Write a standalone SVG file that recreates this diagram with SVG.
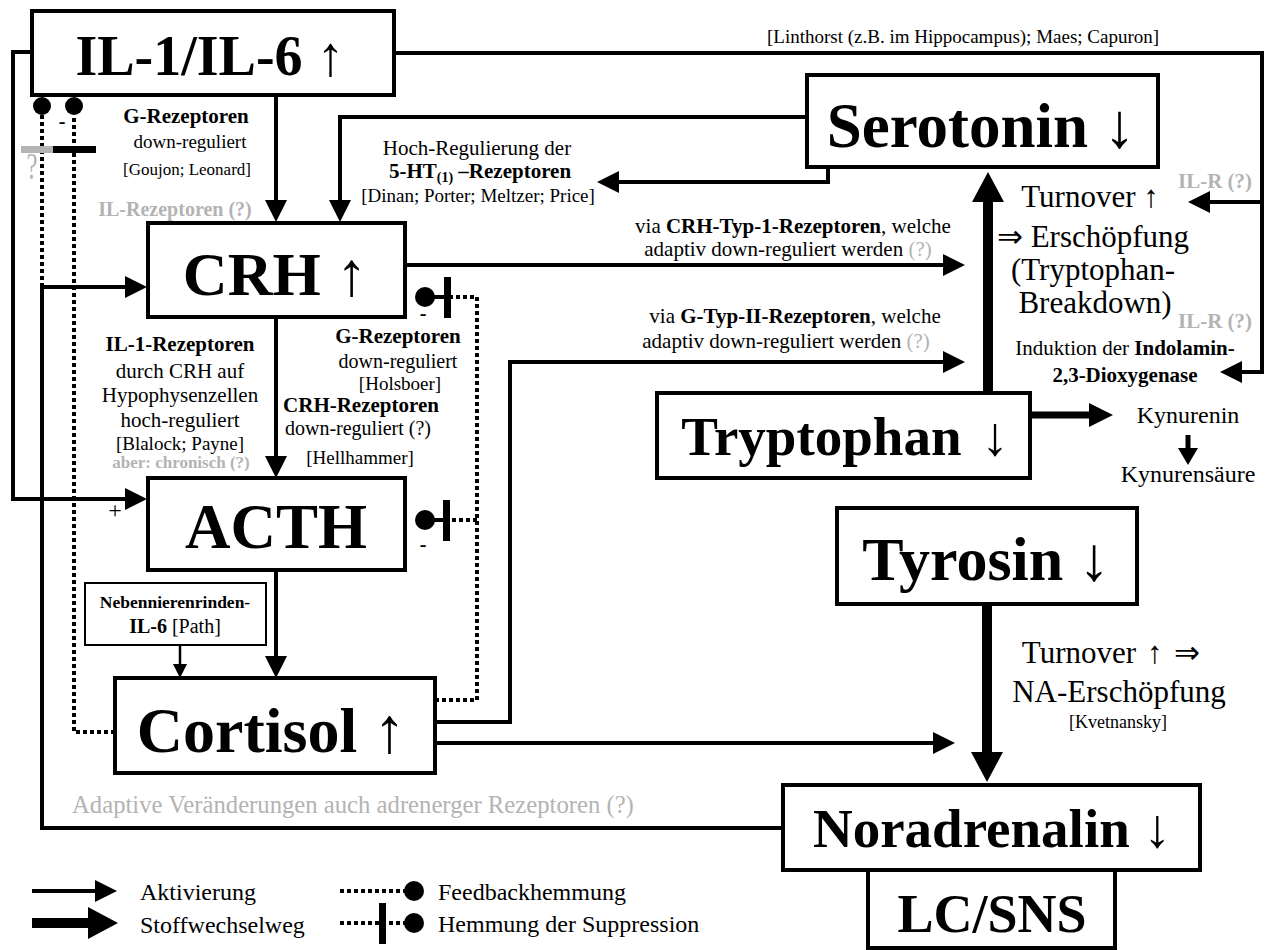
<svg xmlns="http://www.w3.org/2000/svg" width="1265" height="950" viewBox="0 0 1265 950">
<style>
text{font-family:"Liberation Serif","Times New Roman",serif;fill:#000}
.big{font-weight:bold;text-anchor:middle}
.ar{font-weight:normal}
.m{text-anchor:middle}
.b{font-weight:bold}
.g{fill:#b3b3b3}
.f21{font-size:21px}
.f20{font-size:20px}
.f19{font-size:19px}
.f24{font-size:24px}
.f31{font-size:31px}
.box{fill:#fff;stroke:#000;stroke-width:4}
.ln{fill:none;stroke:#000;stroke-width:4}
.dot{fill:none;stroke:#000;stroke-width:4;stroke-dasharray:4 3}
</style>
<defs>
<marker id="arr" markerUnits="userSpaceOnUse" viewBox="0 0 22 22" markerWidth="22" markerHeight="22" refX="1" refY="11" orient="auto"><path d="M0,0 L22,11 L0,22 z"/></marker>
<marker id="arrT" markerUnits="userSpaceOnUse" viewBox="0 0 30 32" markerWidth="30" markerHeight="32" refX="1" refY="16" orient="auto"><path d="M0,0 L30,16 L0,32 z"/></marker>
<marker id="arrM" markerUnits="userSpaceOnUse" viewBox="0 0 24 24" markerWidth="24" markerHeight="24" refX="1" refY="12" orient="auto"><path d="M0,0 L24,12 L0,24 z"/></marker>
<marker id="arrS" markerUnits="userSpaceOnUse" viewBox="0 0 17 20" markerWidth="17" markerHeight="20" refX="1" refY="10" orient="auto"><path d="M0,0 L17,10 L0,20 z"/></marker>
<marker id="arrXS" markerUnits="userSpaceOnUse" viewBox="0 0 14 14" markerWidth="14" markerHeight="14" refX="1" refY="7" orient="auto"><path d="M0,0 L14,7 L0,14 z"/></marker>
</defs>

<g id="connectors">
<path class="ln" d="M32,52 H13 V499 H126" marker-end="url(#arr)"/>
<path class="ln" d="M783,828 H42 V287 H126" marker-end="url(#arr)"/>
<path class="ln" d="M276,95 V201" marker-end="url(#arr)"/>
<path class="ln" d="M807,117 H340 V201" marker-end="url(#arr)"/>
<path class="ln" d="M828,167 V182 H618" marker-end="url(#arr)"/>
<path class="ln" d="M394,53 H1262 V372 H1241" marker-end="url(#arr)"/>
<path class="ln" d="M1262,202 H1209" marker-end="url(#arr)"/>
<path class="ln" d="M405,265 H944" marker-end="url(#arr)"/>
<path class="ln" d="M435,722 H510 V362 H944" marker-end="url(#arr)"/>
<path class="ln" d="M435,743 H934" marker-end="url(#arr)"/>
<path class="ln" d="M276,317 V457" marker-end="url(#arr)"/>
<path class="ln" d="M276,570 V657" marker-end="url(#arr)"/>
<path class="ln" style="stroke-width:2.5" d="M180,645 V665" marker-end="url(#arrXS)"/>
<path class="ln" style="stroke-width:10" d="M988,393 V201" marker-end="url(#arrT)"/>
<path class="ln" style="stroke-width:10" d="M987,604 V753" marker-end="url(#arrT)"/>
<path class="ln" style="stroke-width:7" d="M1030,415 H1090" marker-end="url(#arrM)"/>
<path class="ln" style="stroke-width:5" d="M1188,435 V449" marker-end="url(#arrS)"/>
<path class="dot" d="M42,287 V115"/>
<path class="dot" d="M115,732 H74 V115"/>
<path class="dot" d="M435,700 H477 V297 H450"/>
<path class="dot" d="M477,520 H450"/>
<circle cx="42" cy="106" r="9"/>
<circle cx="74" cy="106" r="9"/>
<rect x="21" y="146" width="32" height="7" fill="#b4b4b4"/>
<rect x="53" y="146" width="43" height="7" fill="#000"/>
<path class="ln" d="M425,297 H447 M425,520 H447"/>
<circle cx="425" cy="297" r="10"/>
<circle cx="425" cy="520" r="10"/>
<rect x="444" y="277" width="7" height="41"/>
<rect x="443" y="500" width="7" height="41"/>
</g>

<g id="il">
<rect class="box" x="32" y="11" width="362" height="84"/>
<text class="big" x="210" y="75" font-size="56">IL-1/IL-6 <tspan class="ar">↑</tspan></text>
</g>
<g id="serotonin">
<rect class="box" x="807" y="75" width="351" height="92"/>
<text class="big" x="981" y="147" font-size="63">Serotonin <tspan class="ar">↓</tspan></text>
</g>
<g id="crh">
<rect class="box" x="148" y="223" width="257" height="94"/>
<text class="big" x="275" y="295" font-size="62">CRH <tspan class="ar">↑</tspan></text>
</g>
<g id="acth">
<rect class="box" x="148" y="478" width="257" height="92"/>
<text class="big" x="276" y="548" font-size="63">ACTH</text>
</g>
<g id="cortisol">
<rect class="box" x="115" y="678" width="320" height="95"/>
<text class="big" x="271" y="752" font-size="64">Cortisol <tspan class="ar">↑</tspan></text>
</g>
<g id="tryptophan">
<rect class="box" x="657" y="393" width="373" height="85"/>
<text class="big" x="845" y="455" font-size="55">Tryptophan <tspan class="ar" dx="6">↓</tspan></text>
</g>
<g id="tyrosin">
<rect class="box" x="837" y="508" width="300" height="96"/>
<text class="big" x="986" y="580" font-size="62">Tyrosin <tspan class="ar">↓</tspan></text>
</g>
<g id="noradrenalin">
<rect class="box" x="783" y="785" width="417" height="85"/>
<text class="big" x="992" y="847" font-size="55">Noradrenalin <tspan class="ar">↓</tspan></text>
</g>
<g id="lcsns">
<rect class="box" x="868" y="870" width="247" height="78"/>
<text class="big" x="992" y="932" font-size="54">LC/SNS</text>
</g>
<g id="nebenniere">
<rect x="85" y="583" width="181" height="62" fill="#fff" stroke="#000" stroke-width="2"/>
<text class="m b" x="175" y="608" font-size="17.5">Nebennierenrinden-</text>
<text class="m f20" x="175" y="633"><tspan class="b">IL-6</tspan> [Path]</text>
</g>

<g id="labels">
<text class="f19" x="767" y="43">[Linthorst (z.B. im Hippocampus); Maes; Capuron]</text>
<text class="m b f21" x="186" y="123">G-Rezeptoren</text>
<text class="m f19" x="190" y="148">down-reguliert</text>
<text class="m" font-size="17" x="187" y="175">[Goujon; Leonard]</text>
<text class="m b g f20" x="175" y="216">IL-Rezeptoren (?)</text>
<text class="m b" font-size="20" x="62" y="128">-</text>
<text class="m g" font-size="38" transform="translate(32,179) scale(0.65,1)" x="0" y="0">?</text>
<text class="m f21" x="477" y="155">Hoch-Regulierung der</text>
<text class="m b f21" x="480" y="178">5-HT<tspan font-size="14" dy="4">(1)</tspan><tspan dy="-4"> –Rezeptoren</tspan></text>
<text class="m f19" x="478" y="202">[Dinan; Porter; Meltzer; Price]</text>
<text class="m f21" x="793" y="233">via <tspan class="b">CRH-Typ-1-Rezeptoren</tspan>, welche</text>
<text class="m f21" x="788" y="256">adaptiv down-reguliert werden <tspan class="g">(?)</tspan></text>
<text class="m f21" x="795" y="323">via <tspan class="b">G-Typ-II-Rezeptoren</tspan>, welche</text>
<text class="m f21" x="786" y="348">adaptiv down-reguliert werden <tspan class="g">(?)</tspan></text>
<text class="m b f21" x="180" y="351">IL-1-Rezeptoren</text>
<text class="m f21" x="180" y="378">durch CRH auf</text>
<text class="m f21" x="180" y="402">Hypophysenzellen</text>
<text class="m f21" x="180" y="427">hoch-reguliert</text>
<text class="m f19" x="180" y="450">[Blalock; Payne]</text>
<text class="m b g" font-size="17" x="181" y="468">aber: chronisch (?)</text>
<text class="m b f21" x="398" y="343">G-Rezeptoren</text>
<text class="m f20" x="398" y="368">down-reguliert</text>
<text class="m f19" x="400" y="390">[Holsboer]</text>
<text class="m b f21" x="361" y="412">CRH-Rezeptoren</text>
<text class="m f20" x="358" y="435">down-reguliert (?)</text>
<text class="m f19" x="360" y="464">[Hellhammer]</text>
<text class="m b" font-size="20" x="423" y="320">-</text>
<text class="m b" font-size="20" x="423" y="551">-</text>
<text class="m f24" x="115" y="518">+</text>
<text class="g" font-size="24.7" x="72" y="813">Adaptive Veränderungen auch adrenerger Rezeptoren (?)</text>
<text class="m f31" x="1090" y="207">Turnover ↑</text>
<text class="m f31" x="1093" y="247">⇒ Erschöpfung</text>
<text class="m f31" x="1093" y="280">(Tryptophan-</text>
<text class="m f31" x="1095" y="313">Breakdown)</text>
<text class="b g f21" x="1178" y="188">IL-R (?)</text>
<text class="b g f21" x="1178" y="328">IL-R (?)</text>
<text class="m f21" x="1125" y="355">Induktion der <tspan class="b">Indolamin-</tspan></text>
<text class="m b f21" x="1125" y="382">2,3-Dioxygenase</text>
<text class="m f24" x="1188" y="423">Kynurenin</text>
<text class="m f24" x="1188" y="482">Kynurensäure</text>
<text class="m f31" x="1111" y="663">Turnover <tspan dx="3">↑</tspan> <tspan dx="4">⇒</tspan></text>
<text class="m f31" x="1119" y="702">NA-Erschöpfung</text>
<text class="m" font-size="18" x="1118" y="728">[Kvetnansky]</text>
</g>

<g id="legend">
<path class="ln" d="M32,891 H96" marker-end="url(#arr)"/>
<path class="ln" style="stroke-width:10" d="M32,923 H89" marker-end="url(#arrT)"/>
<path class="dot" d="M340,891 H405"/>
<circle cx="414" cy="891" r="10"/>
<path class="dot" d="M340,923 H405"/>
<rect x="379" y="903" width="7" height="41"/>
<circle cx="414" cy="923" r="10"/>
<text class="f24" x="140" y="900">Aktivierung</text>
<text class="f24" x="140" y="933">Stoffwechselweg</text>
<text class="f24" x="438" y="900">Feedbackhemmung</text>
<text class="f24" x="438" y="932">Hemmung der Suppression</text>
</g>
</svg>
